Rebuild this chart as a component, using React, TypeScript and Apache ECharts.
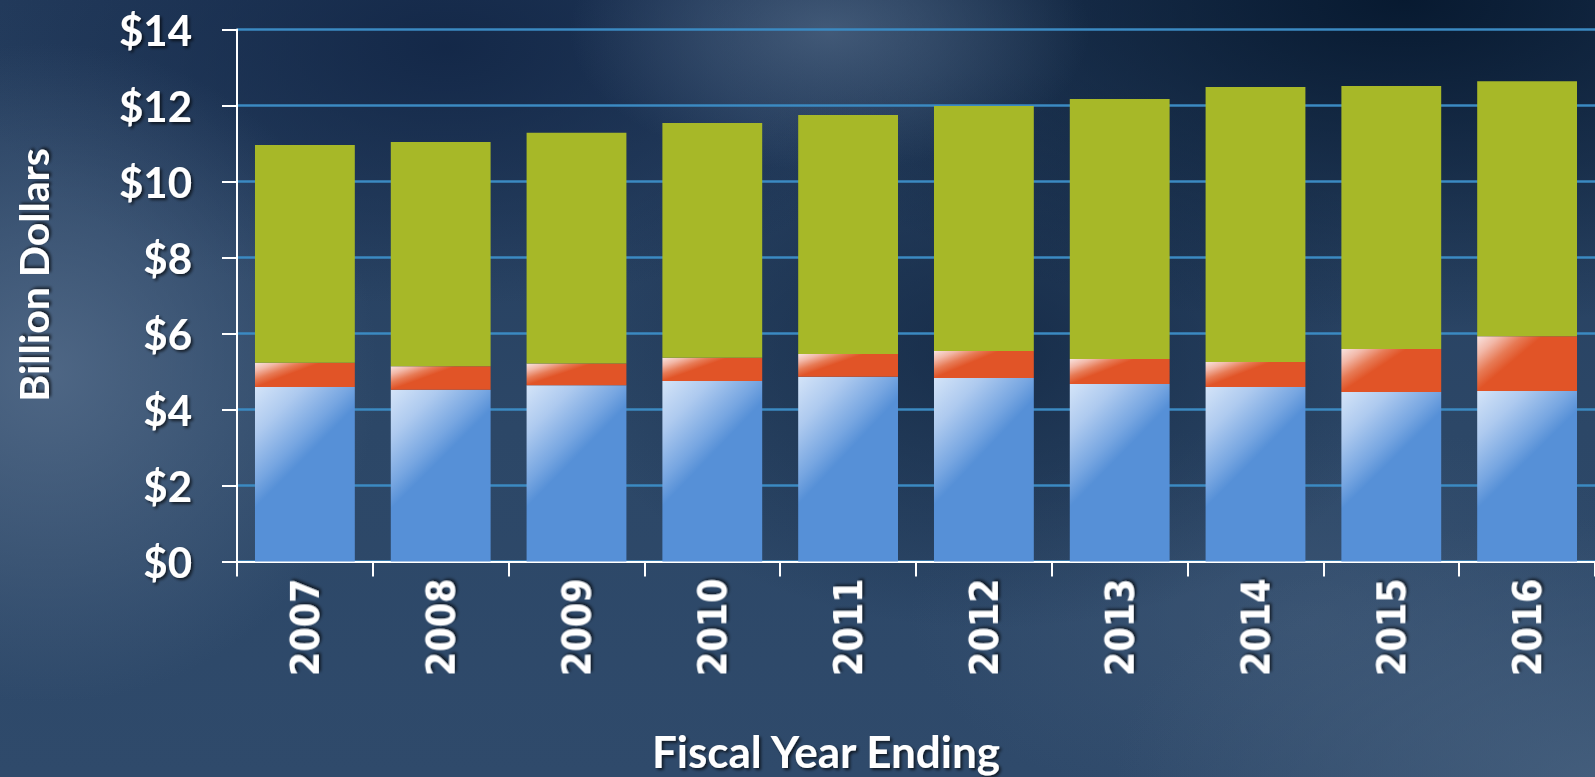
import React, { useEffect, useRef } from "react";
import * as echarts from "echarts";

const years = ["2007", "2008", "2009", "2010", "2011", "2012", "2013", "2014", "2015", "2016"];
const baseValues = [4.59, 4.52, 4.64, 4.75, 4.86, 4.83, 4.67, 4.59, 4.46, 4.49];
const middleValues = [0.64, 0.62, 0.57, 0.61, 0.6, 0.71, 0.66, 0.66, 1.13, 1.44];
const topValues = [5.73, 5.9, 6.07, 6.18, 6.29, 6.45, 6.84, 7.24, 6.92, 6.71];
const yMin = 0;
const yMax = 14;
const yStep = 2;
const yAxisTitle = "Billion Dollars";
const xAxisTitle = "Fiscal Year Ending";

const calibriLike = "Lato, 'Open Sans', sans-serif";
const yearFont = "'DejaVu Sans Condensed', 'DejaVu Sans', sans-serif";

const shadow = {
  textShadowColor: "rgba(0,0,0,0.65)",
  textShadowBlur: 3,
  textShadowOffsetX: 2,
  textShadowOffsetY: 2,
};

export default function App() {
  const ref = useRef<HTMLDivElement>(null);

  useEffect(() => {
    if (!ref.current) return;
    const chart = echarts.init(ref.current, null, { renderer: "svg" });
    chart.setOption({
      animation: false,
      backgroundColor: "transparent",
      grid: { left: 237, top: 29.5, right: -3, bottom: 215.5, containLabel: false },
      xAxis: {
        type: "category",
        data: years,
        axisLine: { show: true, lineStyle: { color: "#ffffff", width: 2 } },
        axisTick: { show: true, length: 15, lineStyle: { color: "#ffffff", width: 2 } },
        axisLabel: {
          rotate: 90,
          margin: 17,
          color: "#ffffff",
          fontFamily: yearFont,
          fontWeight: "bold",
          fontSize: 39,
          ...shadow,
        },
        splitLine: { show: false },
      },
      yAxis: {
        type: "value",
        min: yMin,
        max: yMax,
        interval: yStep,
        axisLine: { show: true, lineStyle: { color: "#ffffff", width: 2 } },
        axisTick: { show: true, length: 15, lineStyle: { color: "#ffffff", width: 2 } },
        axisLabel: {
          margin: 45,
          color: "#ffffff",
          fontFamily: calibriLike,
          fontWeight: "bold",
          fontSize: 42,
          formatter: (v: number) => "$" + v,
          ...shadow,
        },
        splitLine: { show: true, lineStyle: { color: "#3B8AC2", width: 2.5 } },
      },
      series: [
        {
          name: "Base",
          type: "bar",
          stack: "total",
          barWidth: "73.5%",
          data: baseValues,
          itemStyle: {
            color: {
              type: "linear",
              x: 0,
              y: 0,
              x2: 0.3,
              y2: 0.52,
              colorStops: [
                { offset: 0, color: "#D4E4F8" },
                { offset: 0.4, color: "#AECAEF" },
                { offset: 0.8, color: "#77A6E1" },
                { offset: 1, color: "#5690D7" },
              ],
            },
          },
        },
        {
          name: "Middle",
          type: "bar",
          stack: "total",
          barWidth: "73.5%",
          data: middleValues,
          itemStyle: {
            color: {
              type: "linear",
              x: 0,
              y: 0,
              x2: 0.46,
              y2: 0.3,
              colorStops: [
                { offset: 0, color: "#F9E4E1" },
                { offset: 0.35, color: "#F2B8A8" },
                { offset: 0.7, color: "#E77A55" },
                { offset: 1, color: "#E15427" },
              ],
            },
          },
        },
        {
          name: "Top",
          type: "bar",
          stack: "total",
          barWidth: "73.5%",
          data: topValues,
          itemStyle: { color: "#A7B828" },
        },
      ],
      graphic: [
        {
          type: "text",
          x: 33,
          y: 275,
          rotation: Math.PI / 2,
          style: {
            text: yAxisTitle,
            fill: "#ffffff",
            font: `bold 41px ${calibriLike}`,
            align: "center",
            verticalAlign: "middle",
            ...shadow,
          },
        },
        {
          type: "text",
          x: 826,
          y: 751,
          style: {
            text: xAxisTitle,
            fill: "#ffffff",
            font: `bold 44px ${calibriLike}`,
            align: "center",
            verticalAlign: "middle",
            ...shadow,
          },
        },
      ],
    });
    return () => chart.dispose();
  }, []);

  const bg = [
    "radial-gradient(ellipse 330px 330px at 3% 48%, rgba(84,108,138,0.85), rgba(84,108,138,0) 100%)",
    "radial-gradient(ellipse 260px 140px at 52% 4%, rgba(78,102,132,0.75), rgba(78,102,132,0) 100%)",
    "radial-gradient(ellipse 700px 330px at 88% 0%, rgba(6,24,46,0.95), rgba(6,24,46,0) 100%)",
    "radial-gradient(ellipse 480px 260px at 28% 6%, rgba(18,38,70,0.9), rgba(18,38,70,0) 100%)",
    "radial-gradient(ellipse 420px 280px at 62% 45%, rgba(15,35,62,0.7), rgba(15,35,62,0) 100%)",
    "radial-gradient(ellipse 480px 260px at 100% 100%, rgba(72,98,128,0.8), rgba(72,98,128,0) 100%)",
    "radial-gradient(ellipse 400px 200px at 82% 80%, rgba(65,90,120,0.6), rgba(65,90,120,0) 100%)",
    "linear-gradient(180deg, #233B5C 0%, #2C4767 55%, #2F4A6B 100%)",
  ].join(", ");

  return (
    <div style={{ position: "fixed", left: 0, top: 0, width: 1595, height: 777, background: bg, overflow: "hidden" }}>
      <div ref={ref} style={{ width: 1595, height: 777 }} />
    </div>
  );
}
